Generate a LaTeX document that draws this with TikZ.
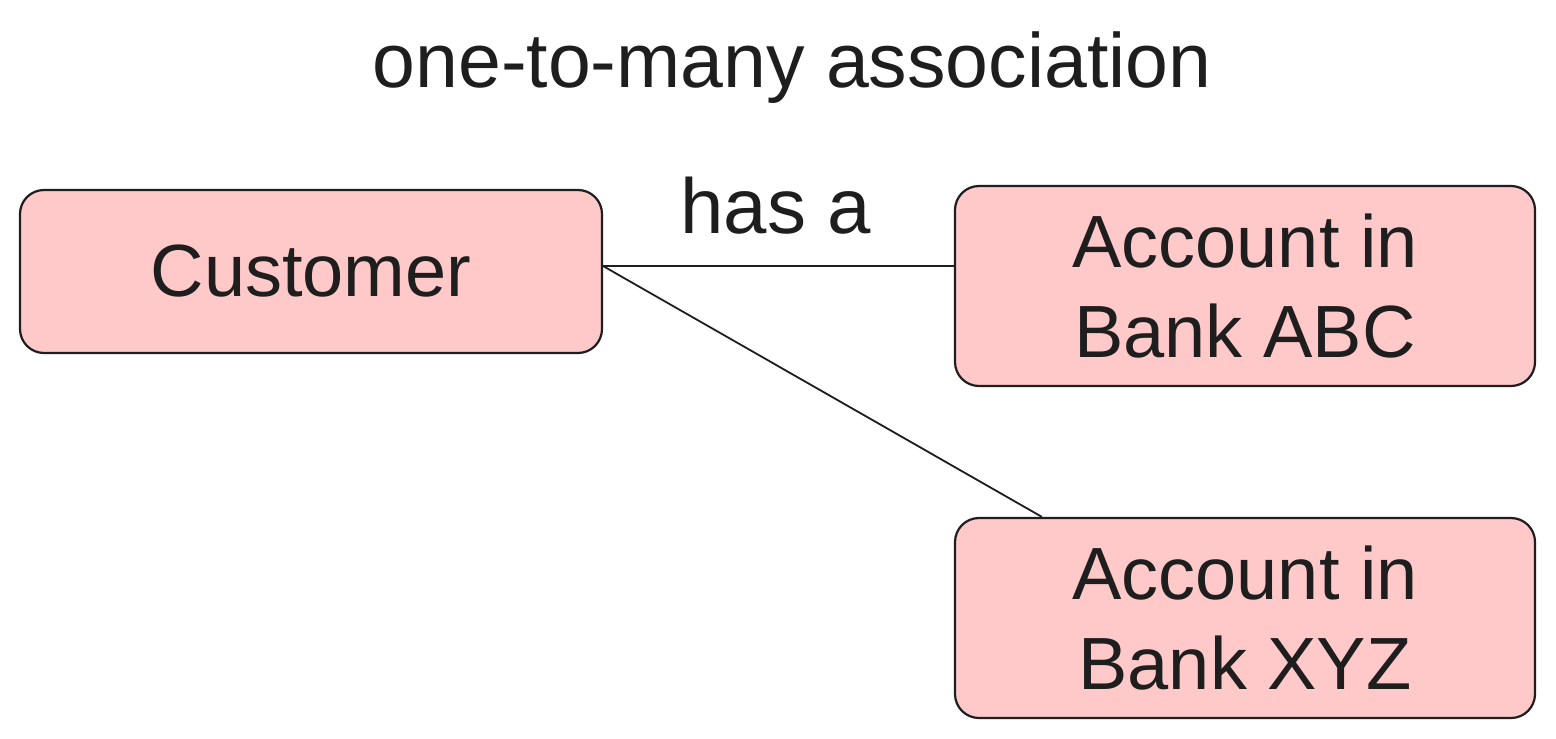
\documentclass[tikz,border=0pt]{standalone}
\usepackage{fontspec}
\setmainfont{Liberation Sans}
\definecolor{boxfill}{HTML}{FFC9C9}
\definecolor{ink}{HTML}{1E1E1E}
\begin{document}
\begin{tikzpicture}[x=0.5pt,y=-0.5pt,
  box/.style={draw=ink,fill=boxfill,line width=1.1pt,rounded corners=12pt,
    align=center,inner sep=0pt,font=\fontsize{37}{45}\selectfont,text=ink},
  lbl/.style={inner sep=0pt,text=ink,anchor=base},
  link/.style={draw=ink,line width=0.9pt}]
\useasboundingbox[fill=white] (0,0) rectangle (1556,738);
\node[lbl,font=\fontsize{38.5}{46}\selectfont] (title) at (792,88) {one-to-many association};
\node[box,minimum width=291pt,minimum height=81.5pt] (cust) at (311,271.5) {Customer};
\node[box,minimum width=290pt,minimum height=100pt] (abc) at (1245,286) {Account in\\Bank ABC};
\node[box,minimum width=290pt,minimum height=100pt] (xyz) at (1245,618) {Account in\\Bank XYZ};
\node[lbl,font=\fontsize{39}{46}\selectfont] (has) at (776,233) {has a};
\coordinate (c1) at (603,266);
\draw[link] (c1) -- (c1 -| abc.west);
\draw[link] (c1) -- ([xshift=44pt]xyz.north west);
\end{tikzpicture}
\end{document}
